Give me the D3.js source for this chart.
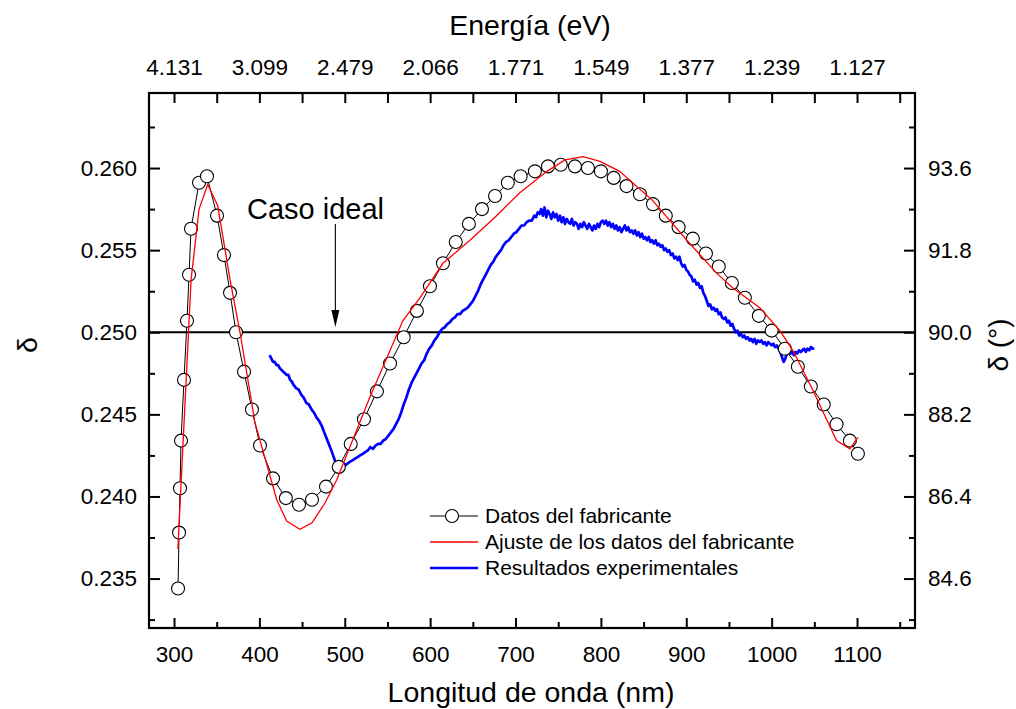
<!DOCTYPE html>
<html>
<head>
<meta charset="utf-8">
<script src="https://cdn.jsdelivr.net/npm/d3@7"></script>
<style>
  html, body { margin: 0; padding: 0; background: #fff; }
  svg { display: block; font-family: "Liberation Sans", Arial, sans-serif; }
</style>
</head>
<body>
<svg id="chart" width="1016" height="709"></svg>
<script>
// ---------------- DATA ----------------
const fabNm = [304.7,305.9,307,308.2,311.7,315.2,317.6,319.9,329.3,338.6,350.4,358.5,365.6,372.6,382,391.3,400.7,416,431,446.4,461.6,478,493,507,522.5,537.7,553,569,584.5,599.8,615,630,645.4,660.7,676,691,706,722.7,738,753,769.6,784.8,800,815,830,845.7,861,876,891,907.7,923,938,953.4,968.6,985,1000,1015.5,1030.7,1045.9,1061,1076,1091.6,1101];
const fabDelta = [0.2344,0.2378,0.2405,0.2434,0.2471,0.2507,0.2535,0.2563,0.2591,0.2595,0.2571,0.2547,0.2524,0.2500,0.2476,0.2453,0.2431,0.2411,0.2399,0.2395,0.2398,0.2406,0.2418,0.2432,0.2447,0.2464,0.2481,0.2497,0.2513,0.2528,0.2542,0.2555,0.2566,0.2575,0.2583,0.2591,0.2595,0.2598,0.2601,0.2602,0.2601,0.2600,0.2598,0.2594,0.2589,0.2584,0.2578,0.2571,0.2564,0.2557,0.2548,0.2540,0.2530,0.2521,0.2510,0.2501,0.2490,0.2479,0.2467,0.2456,0.2444,0.2434,0.2426];

const fitNm = [304.5,320,329.3,339.5,351.2,365.6,377.3,394.8,420.3,432,447.5,461.6,476.8,490.5,529,568,588,615,646.6,676,705,736.8,758,779,799,822,861,900.7,935.5,954.6,986,1009.6,1024.8,1048,1076,1091.6,1101];
const fitDelta = [0.2368,0.2532,0.2575,0.2590,0.2577,0.2532,0.2500,0.2445,0.2398,0.2385,0.2380,0.2384,0.2396,0.2410,0.2460,0.2507,0.2521,0.2542,0.2556,0.2570,0.2585,0.2598,0.2605,0.2607,0.2604,0.2598,0.2580,0.2556,0.2536,0.2527,0.2515,0.2501,0.2489,0.2465,0.2434,0.2429,0.2436];

const expNm = [412,414,416,418,420,422,424,426,428,430,432,434,436,438,440,443,446,449,452,455,458,461,464,467,470,473,476,479,482,485,487,489,491,493,495,497,499,501,503,506,509,512,515,518,521,524,527,530,533,536,539,542,545,548,551,554,557,560,563,566,569,572,575,578,581,584,587,590,593,596,599,602,605,608,611,614,617,620,623,626,629,632,635,638,641,644,647,650,653,656,659,662,665,668,671,674,677,680,683,686,689,692,695,698,701,704,707,710,713,716,719,722,724,726,728,730,732,734,736,738,740,742,744,746,748,750,752,754,756,758,760,762,764,766,768,770,772,774,776,778,780,782,784,786,788,790,792,794,796,798,800,802,804,806,808,810,812,814,816,818,820,822,824,826,828,830,832,834,836,838,840,842,844,846,848,850,852,854,856,858,860,862,864,866,868,870,872,874,876,878,880,882,884,886,888,890,892,894,896,898,900,902,904,906,908,910,912,914,916,918,920,922,924,926,928,930,932,934,936,938,940,942,944,946,948,950,952,954,956,958,960,962,964,966,968,970,972,974,976,978,980,982,984,986,988,990,992,994,996,998,1000,1002,1004,1006,1008,1010,1012,1014,1016,1018,1020,1022,1024,1026,1028,1030,1032,1034,1036,1038,1040,1042,1044,1046,1048,1050];
const expDelta = [
  0.2486,0.2484,0.2482,0.2482,0.2480,0.2480,0.2478,0.2477,0.2476,0.2475,0.2474,0.2474,0.2471,0.2470,0.2468,
  0.2466,0.2465,0.2462,0.2460,0.2457,0.2456,0.2453,0.2451,0.2448,0.2446,0.2443,0.2439,0.2435,0.2431,0.2427,
  0.2424,0.2421,0.2420,0.2418,0.2419,0.2418,0.2420,0.2419,0.2420,
  0.2421,0.2422,0.2423,0.2424,0.2425,0.2426,0.2427,0.2428,0.2430,0.2429,
  0.2431,0.2432,0.2432,0.2434,0.2435,0.2437,0.2439,0.2441,0.2444,0.2447,
  0.2451,0.2456,0.2460,0.2465,0.2469,0.2472,0.2475,0.2478,0.2481,0.2483,
  0.2487,0.2490,0.2492,0.2495,0.2497,0.2500,0.2502,0.2503,0.2505,0.2506,
  0.2508,0.2509,0.2511,0.2511,0.2513,0.2514,0.2515,0.2517,0.2519,0.2522,
  0.2525,0.2529,0.2532,0.2535,0.2538,0.2541,0.2543,0.2546,0.2548,0.2550,
  0.2553,0.2555,0.2556,0.2558,0.2560,0.2561,0.2563,0.2565,0.2565,0.2567,
  0.2568,0.2568,0.2571,
  0.2570,0.2573,0.2572,0.2575,0.2571,0.2576,0.2570,0.2574,0.2572,0.2569,
  0.2573,0.2570,0.2572,0.2568,0.2571,0.2567,0.2570,0.2566,0.2569,0.2567,
  0.2566,0.2569,0.2565,0.2567,0.2566,0.2563,0.2566,0.2564,0.2567,0.2565,
  0.2563,0.2566,0.2564,0.2562,0.2565,0.2563,0.2566,0.2564,0.2567,0.2568,
  0.2566,0.2568,0.2565,0.2567,0.2564,0.2566,0.2563,0.2565,0.2562,0.2564,
  0.2561,0.2563,0.2565,0.2562,0.2564,0.2561,0.2562,0.2560,0.2562,0.2559,
  0.2561,0.2558,0.2560,0.2557,0.2558,0.2556,0.2558,0.2555,0.2556,0.2554,
  0.2556,0.2553,0.2554,0.2552,0.2553,0.2550,0.2551,0.2549,0.2550,0.2547,
  0.2548,0.2545,0.2546,0.2544,0.2546,0.2542,0.2540,0.2541,0.2538,0.2537,
  0.2535,0.2534,0.2531,0.2532,0.2529,0.2530,0.2527,0.2528,0.2524,0.2522,
  0.2519,0.2516,0.2517,0.2514,0.2515,0.2513,0.2514,0.2511,0.2512,0.2509,
  0.2508,0.2509,0.2506,0.2507,0.2504,0.2505,0.2502,0.2500,0.2501,0.2498,
  0.2499,0.2497,0.2498,0.2496,0.2497,0.2495,0.2496,0.2494,0.2496,0.2493,
  0.2495,0.2494,0.2495,0.2493,0.2494,0.2492,0.2494,0.2493,0.2492,0.2493,
  0.2491,0.2492,0.2490,0.2488,0.2485,0.2482,0.2484,0.2487,0.2489,0.2487,
  0.2488,0.2486,0.2488,0.2487,0.2489,0.2488,0.2489,0.2490,0.2488,0.2490,
  0.2489,0.2491,0.2490,0.2490];

const xTicks = [300,400,500,600,700,800,900,1000,1100];
const xMinorTicks = [350,450,550,650,750,850,950,1050,1150];
const energyLabels = ["4.131","3.099","2.479","2.066","1.771","1.549","1.377","1.239","1.127"];
const yTicks = [0.235,0.240,0.245,0.250,0.255,0.260];
const yMinorTicks = [0.2325,0.2375,0.2425,0.2475,0.2525,0.2575,0.2625];
const yTickLabels = ["0.235","0.240","0.245","0.250","0.255","0.260"];
const degTickLabels = ["84.6","86.4","88.2","90.0","91.8","93.6"];
const idealValue = 0.250;
const legendLabels = ["Datos del fabricante","Ajuste de los datos del fabricante","Resultados experimentales"];

// ---------------- LAYOUT ----------------
const L = 149, R = 915, T = 93, B = 628;
const svg = d3.select("#chart");
const x = d3.scaleLinear().domain([270.7, 1167.9]).range([L, R]);
const y = d3.scaleLinear().domain([0.23199, 0.26457]).range([B, T]);

const fabData = fabNm.map((d,i)=>({x:d, y:fabDelta[i]}));
const fitData = fitNm.map((d,i)=>({x:d, y:fitDelta[i]}));
const nExp = Math.min(expNm.length, expDelta.length);
const expData = expNm.slice(0, nExp).map((d,i)=>({x:d, y:expDelta[i]}));

const line = d3.line().defined(d=>d.y!=null).x(d=>x(d.x)).y(d=>y(d.y));

// horizontal ideal line
svg.append("line")
  .attr("x1", L).attr("x2", R)
  .attr("y1", y(idealValue)).attr("y2", y(idealValue))
  .attr("stroke", "#000").attr("stroke-width", 2.2);

// experimental (blue)
svg.append("path").datum(expData).attr("d", line)
  .attr("fill","none").attr("stroke","#0000ff").attr("stroke-width",2.7)
  .attr("stroke-linejoin","round");

// manufacturer data line
svg.append("path").datum(fabData).attr("d", line)
  .attr("fill","none").attr("stroke","#000").attr("stroke-width",1);

// circles
svg.append("g").selectAll("circle").data(fabData).join("circle")
  .attr("cx", d=>x(d.x)).attr("cy", d=>y(d.y)).attr("r", 6.5)
  .attr("fill","#fff").attr("stroke","#000").attr("stroke-width",1.1);

// fit (red)
svg.append("path").datum(fitData).attr("d", line)
  .attr("fill","none").attr("stroke","#ff0000").attr("stroke-width",1.3);

// ---------------- AXES ----------------
const fmtBottom = d3.axisBottom(x).tickValues(xTicks).tickSizeInner(-10).tickSizeOuter(0).tickPadding(18).tickFormat(d3.format("d"));
const gB = svg.append("g").attr("transform", `translate(0,${B})`).call(fmtBottom);
const gBm = svg.append("g").attr("transform", `translate(0,${B})`).call(d3.axisBottom(x).tickValues(xMinorTicks).tickSizeInner(-6).tickSizeOuter(0).tickFormat(""));

const topAxis = d3.axisTop(x).tickValues(xTicks).tickSizeInner(-10).tickSizeOuter(0).tickPadding(18).tickFormat((d,i)=>energyLabels[i]);
const gT = svg.append("g").attr("transform", `translate(0,${T})`).call(topAxis);
const gTm = svg.append("g").attr("transform", `translate(0,${T})`).call(d3.axisTop(x).tickValues(xMinorTicks).tickSizeInner(-10).tickSizeOuter(0).tickFormat(""));

const leftAxis = d3.axisLeft(y).tickValues(yTicks).tickSizeInner(-11).tickSizeOuter(0).tickPadding(12).tickFormat((d,i)=>yTickLabels[i]);
const gL = svg.append("g").attr("transform", `translate(${L},0)`).call(leftAxis);
const gLm = svg.append("g").attr("transform", `translate(${L},0)`).call(d3.axisLeft(y).tickValues(yMinorTicks).tickSizeInner(-6).tickSizeOuter(0).tickFormat(""));

const rightAxis = d3.axisRight(y).tickValues(yTicks).tickSizeInner(-11).tickSizeOuter(0).tickPadding(13).tickFormat((d,i)=>degTickLabels[i]);
const gR = svg.append("g").attr("transform", `translate(${R},0)`).call(rightAxis);
const gRm = svg.append("g").attr("transform", `translate(${R},0)`).call(d3.axisRight(y).tickValues(yMinorTicks).tickSizeInner(-6).tickSizeOuter(0).tickFormat(""));

[gB,gBm,gT,gTm,gL,gLm,gR,gRm].forEach(g=>{
  g.select(".domain").remove();
  g.selectAll(".tick line").attr("stroke","#000").attr("stroke-width",2);
  g.selectAll(".tick text").attr("fill","#000").style("font-size","22.5px")
   .style("font-family","'Liberation Sans', Arial, sans-serif");
});

// frame
svg.append("rect").attr("x",L).attr("y",T).attr("width",R-L).attr("height",B-T)
  .attr("fill","none").attr("stroke","#000").attr("stroke-width",2.2);

// ---------------- TITLES ----------------
svg.append("text").attr("x", (L+R)/2 - 1).attr("y", 702).attr("text-anchor","middle")
  .style("font-size","28.5px").text("Longitud de onda (nm)");
svg.append("text").attr("x", 530).attr("y", 35).attr("text-anchor","middle")
  .style("font-size","28.5px").text("Energía (eV)");
svg.append("text").attr("transform","translate(37,345) rotate(-90)").attr("text-anchor","middle")
  .style("font-size","28.5px").text("δ");
svg.append("text").attr("transform","translate(1008,345) rotate(-90)").attr("text-anchor","middle")
  .style("font-size","28px").text("δ (°)");

// annotation
svg.append("text").attr("x", 247).attr("y", 219).style("font-size","29px").text("Caso ideal");
const ax = x(489);
svg.append("line").attr("x1",ax).attr("x2",ax).attr("y1",224).attr("y2",314)
  .attr("stroke","#000").attr("stroke-width",1.1);
svg.append("path").attr("d", `M${ax-4},${310} L${ax+4},${310} L${ax},${327} Z`).attr("fill","#000");

// ---------------- LEGEND ----------------
const lg = svg.append("g");
const rowsY = [516, 542, 568];
const lx1 = 430, lx2 = 478, tx = 485;
lg.append("line").attr("x1",lx1).attr("x2",lx2).attr("y1",rowsY[0]).attr("y2",rowsY[0]).attr("stroke","#000").attr("stroke-width",1);
lg.append("circle").attr("cx",(lx1+lx2)/2-2).attr("cy",rowsY[0]).attr("r",6.5).attr("fill","#fff").attr("stroke","#000").attr("stroke-width",1.1);
lg.append("line").attr("x1",lx1).attr("x2",lx2).attr("y1",rowsY[1]).attr("y2",rowsY[1]).attr("stroke","#ff0000").attr("stroke-width",1.3);
lg.append("line").attr("x1",lx1).attr("x2",lx2).attr("y1",rowsY[2]).attr("y2",rowsY[2]).attr("stroke","#0000ff").attr("stroke-width",2.7);
legendLabels.forEach((t,i)=>{
  lg.append("text").attr("x",tx).attr("y",rowsY[i]+7).style("font-size","21px").text(t);
});
</script>
</body>
</html>
